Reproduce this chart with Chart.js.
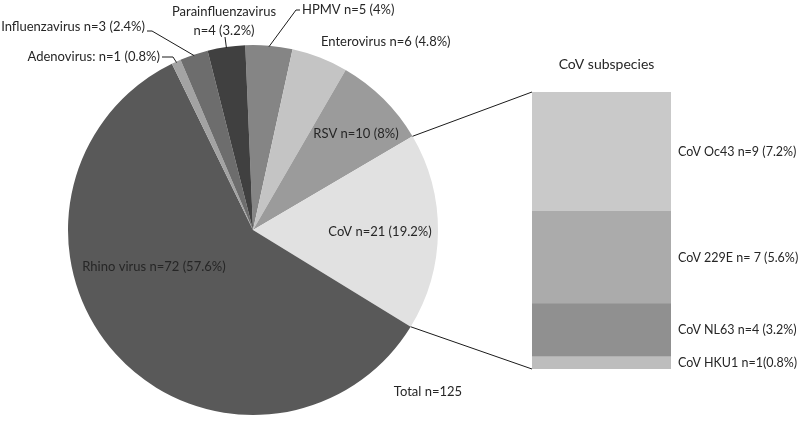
<!DOCTYPE html>
<html>
<head>
<meta charset="utf-8">
<script src="https://cdn.jsdelivr.net/npm/chart.js@4"></script>
<style>
  html, body { margin: 0; padding: 0; background: #fff; }
  #wrap { position: relative; width: 800px; height: 425px; }
  #wrap canvas { position: absolute; left: 0; top: 0; }
</style>
</head>
<body>
<div id="wrap">
  <canvas id="bar" width="800" height="425"></canvas>
  <canvas id="pie" width="800" height="425"></canvas>
</div>
<script>
// pie: all viruses (clockwise from the top)
const virusLabels = ['HPMV n=5 (4%)', 'Enterovirus n=6 (4.8%)', 'RSV n=10 (8%)', 'CoV n=21 (19.2%)',
    'Rhino virus n=72 (57.6%)', 'Adenovirus: n=1 (0.8%)', 'Influenzavirus n=3 (2.4%)', 'Parainfluenzavirus\nn=4 (3.2%)'];
const virusCounts = [5, 6, 10, 21, 72, 1, 3, 4];
const totalLabel = 'Total n=125';

// bar: CoV subspecies (top to bottom)
const covLabels = ['CoV Oc43 n=9 (7.2%)', 'CoV 229E n= 7 (5.6%)', 'CoV NL63 n=4 (3.2%)', 'CoV HKU1 n=1(0.8%)'];
const covCounts = [9, 7, 4, 1];
const covTitle = 'CoV subspecies';

const virusColors = ['#858585', '#c4c4c4', '#9b9b9b', '#e1e1e1', '#595959', '#a3a3a3', '#6d6d6d', '#404040'];
const covColors = ['#c9c9c9', '#ababab', '#909090', '#bdbdbd'];
const textColor = '#262626';
const font = 'Lato, "Open Sans", sans-serif';

// label placement relative to pie centre (px); leader runs from the text to the slice edge
const pieLabelLayout = [
    { dx: 49, dy: -220, align: 'left', leader: [[47, -220], [43, -220]] },
    { dx: 68, dy: -188, align: 'left' },
    { dx: 103, dy: -96, align: 'center' },
    { dx: 127, dy: 2, align: 'center' },
    { dx: -99, dy: 37, align: 'center' },
    { dx: -93, dy: -173, align: 'right', leader: [[-91, -173], [-80, -173]] },
    { dx: -108, dy: -203, align: 'right', leader: [[-106, -199], [-101, -199]] },
    { dx: -29, dy: -218, align: 'center', leader: [[-28, -193]] }
];

const covSum = covCounts.reduce((a, b) => a + b, 0);

const barLabels = {
    id: 'barLabels',
    afterDraw(chart) {
        const ctx = chart.ctx;
        ctx.save();
        ctx.fillStyle = textColor;
        ctx.textBaseline = 'middle';
        ctx.font = '12.5px ' + font;
        ctx.textAlign = 'left';
        chart.data.datasets.forEach((ds, i) => {
            const bar = chart.getDatasetMeta(i).data[0];
            ctx.fillText(covLabels[i], bar.x + bar.width / 2 + 7, (bar.y + bar.base) / 2 + 1);
        });
        const first = chart.getDatasetMeta(0).data[0];
        ctx.font = '14px ' + font;
        ctx.textAlign = 'center';
        ctx.fillText(covTitle, first.x + 5, Math.min(first.y, first.base) - 28);
        ctx.restore();
    }
};

const barChart = new Chart(document.getElementById('bar'), {
    type: 'bar',
    data: {
        labels: ['CoV'],
        datasets: covCounts.map((v, i) => ({
            label: covLabels[i],
            data: [v],
            backgroundColor: covColors[i],
            borderWidth: 0,
            barPercentage: 1,
            categoryPercentage: 1
        }))
    },
    options: {
        responsive: false,
        animation: false,
        layout: { padding: { left: 532, right: 129, top: 92, bottom: 56 } },
        plugins: { legend: { display: false }, tooltip: { enabled: false } },
        scales: {
            x: { display: false, stacked: true },
            y: { display: false, stacked: true, reverse: true, min: 0, max: covSum }
        }
    },
    plugins: [barLabels]
});

const pieLabels = {
    id: 'pieLabels',
    afterDraw(chart) {
        const ctx = chart.ctx;
        const arcs = chart.getDatasetMeta(0).data;
        ctx.save();
        ctx.fillStyle = textColor;
        ctx.strokeStyle = '#1a1a1a';
        ctx.lineWidth = 1;
        ctx.font = '13px ' + font;
        ctx.textBaseline = 'middle';
        arcs.forEach((arc, i) => {
            const { x, y, startAngle, endAngle, outerRadius } = arc;
            const mid = (startAngle + endAngle) / 2;
            const lay = pieLabelLayout[i];
            if (lay.leader) {
                ctx.beginPath();
                lay.leader.forEach(([lx, ly], k) => k ? ctx.lineTo(x + lx, y + ly) : ctx.moveTo(x + lx, y + ly));
                ctx.lineTo(x + Math.cos(mid) * (outerRadius - 1), y + Math.sin(mid) * (outerRadius - 1));
                ctx.stroke();
            }
            ctx.textAlign = lay.align;
            virusLabels[i].split('\n').forEach((line, k) => ctx.fillText(line, x + lay.dx, y + lay.dy + k * 19));
        });

        // connectors from the CoV slice to the subspecies bar
        const cov = arcs[3];
        const topBar = barChart.getDatasetMeta(0).data[0];
        const botBar = barChart.getDatasetMeta(covCounts.length - 1).data[0];
        const left = topBar.x - topBar.width / 2;
        ctx.beginPath();
        ctx.moveTo(cov.x + Math.cos(cov.startAngle) * cov.outerRadius, cov.y + Math.sin(cov.startAngle) * cov.outerRadius);
        ctx.lineTo(left, Math.min(topBar.y, topBar.base));
        ctx.moveTo(cov.x + Math.cos(cov.endAngle) * cov.outerRadius, cov.y + Math.sin(cov.endAngle) * cov.outerRadius);
        ctx.lineTo(left, Math.max(botBar.y, botBar.base));
        ctx.stroke();

        ctx.textAlign = 'center';
        ctx.fillText(totalLabel, cov.x + 175, cov.y + 162);
        ctx.restore();
    }
};

new Chart(document.getElementById('pie'), {
    type: 'pie',
    data: {
        labels: virusLabels,
        datasets: [{
            data: virusCounts,
            backgroundColor: virusColors,
            borderWidth: 0,
            hoverOffset: 0
        }]
    },
    options: {
        responsive: false,
        animation: false,
        rotation: -2.4,
        layout: { padding: { left: 68, right: 362, top: 45, bottom: 10 } },
        plugins: { legend: { display: false }, tooltip: { enabled: false } }
    },
    plugins: [pieLabels]
});
</script>
</body>
</html>
